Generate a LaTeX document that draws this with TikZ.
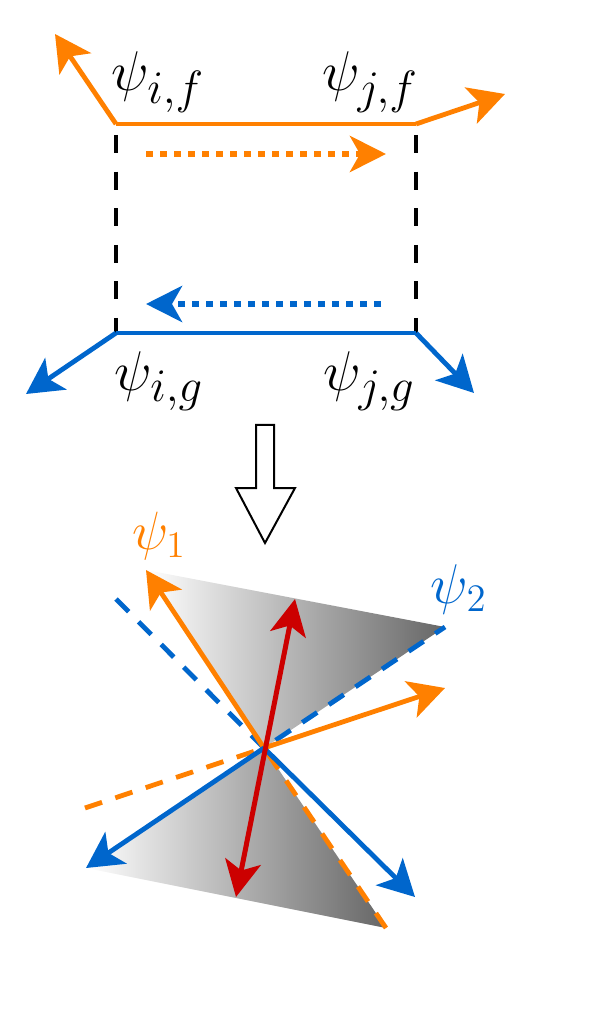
\documentclass[tikz,border=0pt]{standalone}
\usepackage{amsmath}
\usepackage{graphicx}
\usepackage{xcolor}
\usepackage{tikz}
\usetikzlibrary{arrows.meta}
\definecolor{psiorange}{RGB}{255,128,0}
\definecolor{psiblue}{RGB}{0,102,204}
\definecolor{psired}{RGB}{204,0,0}

\begin{document}
\begin{tikzpicture}[x=0.5pt, y=-0.5pt,
  vecarrow/.style={line width=2.4pt, -{Stealth[length=18pt,width=19pt,inset=4.5pt]}},
  dotarrow/.style={line width=3pt, dash pattern=on 3.5pt off 3.5pt, -{Stealth[length=18pt,width=18pt,inset=5pt]}},
  twoarrow/.style={line width=2.5pt, {Stealth[length=18pt,width=18pt,inset=4.5pt]}-{Stealth[length=18pt,width=18pt,inset=4.5pt]}},
  linkdash/.style={line width=2.4pt, dash pattern=on 9pt off 9.3pt},
  extdash/.style={line width=2.4pt, dash pattern=on 9pt off 7pt},
  biglabel/.style={font=\Huge},
  smalllabel/.style={font=\huge}]
\useasboundingbox (0,0) rectangle (594,1020);

% (a) pair of sites i, j
\coordinate (if) at (116,124);
\coordinate (jf) at (416,124);
\coordinate (ig) at (116,333);
\coordinate (jg) at (416,333);
\coordinate (ifend) at (55,34);
\coordinate (jfend) at (505,94);
\coordinate (igend) at (26,394);
\coordinate (jgend) at (474,393);
\draw[linkdash] (116,135) -- (ig);
\draw[linkdash] (416,135) -- (jg);
\draw[psiorange, line width=2.4pt] (if) -- (jf);
\draw[psiorange, vecarrow] (if) -- (ifend);
\draw[psiorange, vecarrow] (jf) -- (jfend);
\draw[psiblue, line width=2.4pt] (ig) -- (jg);
\draw[psiblue, vecarrow] (ig) -- (igend);
\draw[psiblue, vecarrow] (jg) -- (jgend);
\coordinate (fa) at (146,154);
\coordinate (fb) at (386,154);
\coordinate (ga) at (381,304);
\coordinate (gb) at (146,304);
\draw[psiorange, dotarrow] (fa) -- (fb);
\draw[psiblue, dotarrow] (ga) -- (gb);
\node[biglabel] (lif) at (158,82) {\scalebox{1.125}{$\psi_{i,f}$}};
\node[biglabel] (ljf) at (370,82) {\scalebox{1.125}{$\psi_{j,f}$}};
\node[biglabel] (lig) at (159,381) {\scalebox{1.125}{$\psi_{i,g}$}};
\node[biglabel] (ljg) at (369,381) {\scalebox{1.125}{$\psi_{j,g}$}};

% hollow arrow
\draw[line width=1pt, fill=white] (256,425) -- (274,425) -- (274,488) -- (295,488)
  -- (265,543) -- (236,488) -- (256,488) -- cycle;

% (b) combined vectors and cone
\coordinate (O) at (264,748);
\coordinate (p1) at (146,570);
\coordinate (p1m) at (386,928);
\coordinate (p2) at (445,627);
\coordinate (p2m) at (86,868);
\coordinate (q1) at (445,688);
\coordinate (q1m) at (85,808);
\coordinate (q2) at (415,897);
\coordinate (q2m) at (116,599);
\coordinate (ra) at (236,897);
\coordinate (rb) at (295,599);
\shade[left color=white, right color=black!60] (O) -- (p1) -- (p2) -- cycle;
\shade[left color=white, right color=black!60] (O) -- (p2m) -- (p1m) -- cycle;
\draw[psiblue, extdash] (q2m) -- (O) -- (p2);
\draw[psiorange, extdash] (q1m) -- (O);
\draw[psiorange, extdash] (p1m) -- (O);
\draw[psiorange, vecarrow] (O) -- (p1);
\draw[psiorange, vecarrow] (O) -- (q1);
\draw[psiblue, vecarrow] (O) -- (p2m);
\draw[psiblue, vecarrow] (O) -- (q2);
\draw[psired, twoarrow] (ra) -- (rb);
\node[smalllabel, text=psiorange] (lp1) at (159,536) {\scalebox{1.3}{$\psi_1$}};
\node[smalllabel, text=psiblue] (lp2) at (459,589) {\scalebox{1.35}{$\psi_2$}};
\end{tikzpicture}
\end{document}
